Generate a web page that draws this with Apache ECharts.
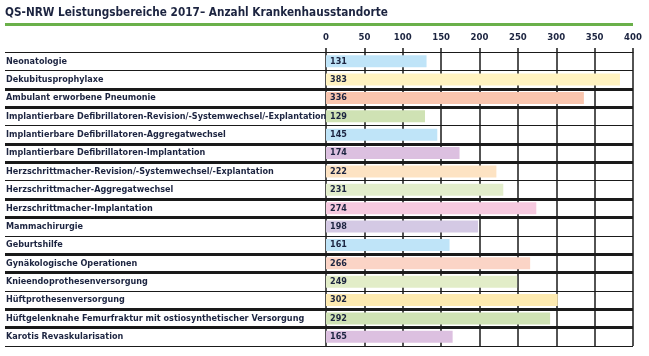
<!DOCTYPE html>
<html>
<head>
<meta charset="utf-8">
<script src="https://cdn.jsdelivr.net/npm/echarts@6/dist/echarts.min.js"></script>
<style>html,body{margin:0;padding:0;background:#fff}#c{width:649px;height:356px}</style>
</head>
<body>
<div id="c"></div>
<script>
const categories = [
  "Neonatologie",
  "Dekubitusprophylaxe",
  "Ambulant erworbene Pneumonie",
  "Implantierbare Defibrillatoren-Revision/-Systemwechsel/-Explantation",
  "Implantierbare Defibrillatoren-Aggregatwechsel",
  "Implantierbare Defibrillatoren-Implantation",
  "Herzschrittmacher-Revision/-Systemwechsel/-Explantation",
  "Herzschrittmacher-Aggregatwechsel",
  "Herzschrittmacher-Implantation",
  "Mammachirurgie",
  "Geburtshilfe",
  "Gynäkologische Operationen",
  "Knieendoprothesenversorgung",
  "Hüftprothesenversorgung",
  "Hüftgelenknahe Femurfraktur mit ostiosynthetischer Versorgung",
  "Karotis Revaskularisation"
];
const values = [131, 383, 336, 129, 145, 174, 222, 231, 274, 198, 161, 266, 249, 302, 292, 165];
const barColors = ["#bfe4f8", "#fff2c0", "#f9c5ae", "#cfe2b4", "#bfe4f8", "#dcc0e0", "#fde3c3", "#e2edcb",
                   "#f6c9df", "#d4c9e4", "#bfe4f8", "#fbd4c6", "#e2edc8", "#fdeab0", "#cfe2b4", "#dcc0e0"];
const xTicks = [0, 50, 100, 150, 200, 250, 300, 350, 400];
// separator line at each row boundary (0 = top, 16 = bottom): 1 = thin, 3 = thick
const boundaryWeights = [1, 1, 3, 3, 1, 3, 3, 1, 3, 3, 1, 3, 3, 1, 3, 3, 1];
const titleText = "QS-NRW Leistungsbereiche 2017– Anzahl Krankenhausstandorte";

const FONT = "'DejaVu Sans Condensed', 'Liberation Sans Narrow', sans-serif";
const INK = "#1c2440";
const LINE = "#1a1a1a";

const chart = echarts.init(document.getElementById('c'), null, {renderer: 'canvas'});

function sepSeries(xi, yi) {
  return {
    type: 'line', xAxisIndex: xi, yAxisIndex: yi, data: [], silent: true,
    markLine: {
      silent: true, symbol: ['none', 'none'], animation: false,
      label: {show: false},
      data: boundaryWeights.map((w, i) => ({yAxis: i, lineStyle: {color: LINE, type: 'solid', width: w === 3 ? 3 : 1.2}}))
    }
  };
}

chart.setOption({
  animation: false,
  title: {
    text: titleText, left: 0, top: 2,
    textStyle: {fontFamily: FONT, fontWeight: 'bold', fontSize: 11.7, color: INK}
  },
  graphic: [{type: 'rect', left: 5, top: 23, shape: {width: 628, height: 3}, style: {fill: '#6ab04a'}}],
  grid: [
    {left: 5, top: 52, width: 321, height: 294},
    {left: 326, top: 52, width: 307, height: 294}
  ],
  xAxis: [
    {gridIndex: 0, type: 'value', min: 0, max: 1, show: false},
    {gridIndex: 1, type: 'value', position: 'top', min: xTicks[0], max: xTicks[xTicks.length - 1], interval: 50,
     axisLine: {show: true, lineStyle: {color: LINE, width: 1.2}},
     axisTick: {show: true, length: 4, lineStyle: {color: LINE, width: 1.5}},
     axisLabel: {fontFamily: FONT, fontWeight: 'bold', fontSize: 9.5, color: INK, margin: 9},
     splitLine: {show: true, lineStyle: {color: LINE, width: 1.5}}}
  ],
  yAxis: [
    {gridIndex: 0, type: 'category', inverse: true, data: categories,
     axisLine: {show: false}, axisTick: {show: false}, splitLine: {show: false},
     axisLabel: {inside: true, margin: 1, align: 'left', fontFamily: FONT, fontWeight: 'bold', fontSize: 9, color: INK}},
    {gridIndex: 0, type: 'value', min: 0, max: 16, inverse: true, show: false},
    {gridIndex: 1, type: 'category', inverse: true, data: categories, show: false},
    {gridIndex: 1, type: 'value', min: 0, max: 16, inverse: true, show: false}
  ],
  series: [
    {
      type: 'bar', xAxisIndex: 1, yAxisIndex: 2, barWidth: 12, silent: true,
      data: values.map((v, i) => ({value: v, itemStyle: {color: barColors[i]}})),
      label: {show: true, position: 'insideLeft', distance: 4, fontFamily: FONT, fontWeight: 'bold', fontSize: 9, color: INK}
    },
    sepSeries(0, 1),
    sepSeries(1, 3)
  ]
});
</script>
</body>
</html>
